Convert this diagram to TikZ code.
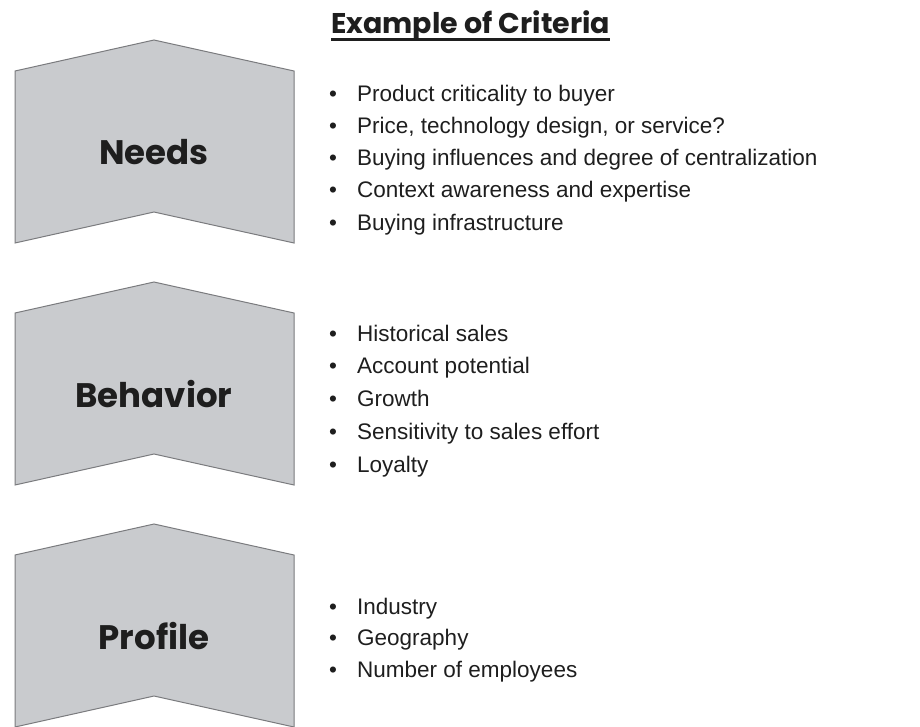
\documentclass[tikz,border=0pt]{standalone}
\usepackage{fontspec}
\setmainfont{Liberation Sans}
\newfontfamily\labelfont{Poppins}
\definecolor{chevfill}{HTML}{C9CBCE}
\definecolor{chevline}{HTML}{7A7B7E}
\definecolor{ink}{HTML}{1E1E1E}
\tikzset{
  chev/.style={fill=chevfill,draw=chevline,line width=1pt,line join=miter},
  chevlabel/.style={font=\labelfont\bfseries\fontsize{34}{40}\selectfont,text=ink,inner sep=0pt},
  crit/.style={anchor=base west,inner sep=0pt,text=ink,font=\fontsize{22.5}{27}\selectfont},
}
% one bullet line of the criteria lists
\newcommand\critline[1]{\makebox[28pt][l]{\textbullet}#1}
\begin{document}
\begin{tikzpicture}[x=1pt,y=-1pt]
\useasboundingbox (0,0) rectangle (920,726);
% the three chevrons, 242 apart
\foreach \y/\name/\txt in {40/needs/Needs,282/behavior/Behavior,524/profile/Profile}{
  \draw[chev] (15,\y+31) -- (154,\y) -- (294,\y+31) -- (294,\y+203)
    -- (154,\y+172) -- (15,\y+203) -- cycle;
  \node[chevlabel] (\name) at (154,\y+112.5) {\txt};
}
% heading
\node[crit,font=\labelfont\bfseries\fontsize{28.5}{32}\selectfont] (head) at (331,33) {Example of Criteria};
\draw[ink,line width=2.2pt] ([yshift=-6.5pt]head.base west) -- ([yshift=-6.5pt]head.base east);
% criteria lists
\foreach \t [count=\i] in {Product criticality to buyer,{Price, technology design, or service?},
  Buying influences and degree of centralization,Context awareness and expertise,Buying infrastructure}
  \node[crit] (need\i) at (329,101+32.3*\i-32.3) {\critline{\t}};
\foreach \t [count=\i] in {Historical sales,Account potential,Growth,Sensitivity to sales effort,Loyalty}
  \node[crit] (beh\i) at (329,341+32.8*\i-32.8) {\critline{\t}};
\foreach \t [count=\i] in {Industry,Geography,Number of employees}
  \node[crit] (prof\i) at (329,614+31.8*\i-31.8) {\critline{\t}};
\end{tikzpicture}
\end{document}
